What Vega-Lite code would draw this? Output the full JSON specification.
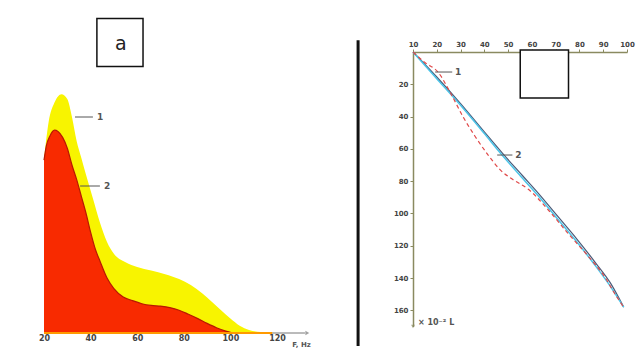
{
  "$schema": "https://vega.github.io/schema/vega-lite/v6.json",
  "width": 636,
  "height": 350,
  "autosize": {"type": "none"},
  "padding": 0,
  "background": "white",
  "config": {
    "view": {"stroke": null},
    "axis": {"labelFont": "DejaVu Sans", "labelFontSize": 8, "labelFontWeight": "bold", "labelColor": "#444", "title": null, "grid": false}
  },
  "datasets": {
    "yellow": [
      {"x": 20, "y": 72}, {"x": 22, "y": 88}, {"x": 24.5, "y": 96}, {"x": 27.5, "y": 99.5}, {"x": 30, "y": 97.5},
      {"x": 32, "y": 90}, {"x": 34, "y": 80}, {"x": 36, "y": 73}, {"x": 38, "y": 66}, {"x": 41, "y": 56},
      {"x": 44, "y": 46}, {"x": 47, "y": 38}, {"x": 50, "y": 33}, {"x": 55, "y": 29.5}, {"x": 60, "y": 27.5},
      {"x": 66, "y": 26}, {"x": 72, "y": 24.5}, {"x": 78, "y": 22.5}, {"x": 83, "y": 20}, {"x": 88, "y": 16.5},
      {"x": 92, "y": 13}, {"x": 96, "y": 9.5}, {"x": 100, "y": 6}, {"x": 104, "y": 3}, {"x": 108, "y": 1.2},
      {"x": 113, "y": 0.4}, {"x": 120, "y": 0}
    ],
    "red": [
      {"x": 20, "y": 72}, {"x": 21, "y": 78}, {"x": 22.5, "y": 82}, {"x": 24.5, "y": 84.5}, {"x": 26, "y": 84},
      {"x": 28, "y": 81.5}, {"x": 30, "y": 77}, {"x": 32, "y": 70}, {"x": 34, "y": 64}, {"x": 36, "y": 57},
      {"x": 38, "y": 50}, {"x": 40, "y": 42}, {"x": 42, "y": 35}, {"x": 44, "y": 30}, {"x": 47, "y": 23},
      {"x": 50, "y": 18.5}, {"x": 54, "y": 15}, {"x": 58, "y": 13.5}, {"x": 62, "y": 12.2}, {"x": 66, "y": 11.5},
      {"x": 70, "y": 11.2}, {"x": 74, "y": 10.6}, {"x": 78, "y": 9.5}, {"x": 82, "y": 7.8}, {"x": 86, "y": 6},
      {"x": 90, "y": 4}, {"x": 94, "y": 2.2}, {"x": 98, "y": 0.8}, {"x": 101, "y": 0}
    ],
    "curve1": [
      {"x": 10, "y": 0}, {"x": 15, "y": 6.5}, {"x": 20.5, "y": 12.4}, {"x": 26, "y": 26}, {"x": 31, "y": 40},
      {"x": 36, "y": 52}, {"x": 41.6, "y": 63.8}, {"x": 46.7, "y": 73}, {"x": 52, "y": 79}, {"x": 58.5, "y": 85},
      {"x": 67, "y": 98}, {"x": 75, "y": 112}, {"x": 84, "y": 127}, {"x": 90.5, "y": 139}, {"x": 95, "y": 150},
      {"x": 98.6, "y": 158}
    ],
    "curve2": [
      {"x": 10, "y": 0}, {"x": 20, "y": 16.5}, {"x": 30, "y": 33}, {"x": 40, "y": 50.5}, {"x": 47, "y": 63},
      {"x": 55, "y": 76.5}, {"x": 62, "y": 88}, {"x": 70, "y": 102}, {"x": 78, "y": 116}, {"x": 86, "y": 131},
      {"x": 92, "y": 143}, {"x": 98.6, "y": 158}
    ],
    "curve2b": [
      {"x": 10, "y": 0}, {"x": 20, "y": 15.5}, {"x": 30, "y": 32}, {"x": 40, "y": 49.5}, {"x": 47.5, "y": 62.5},
      {"x": 56, "y": 76.5}, {"x": 63, "y": 88}, {"x": 71, "y": 102}, {"x": 79, "y": 116}, {"x": 87, "y": 131},
      {"x": 93, "y": 143}, {"x": 98.6, "y": 158}
    ]
  },
  "layer": [
    {
      "encoding": {
        "x": {"field": "x", "type": "quantitative",
              "scale": {"domain": [20, 120], "range": [44, 277], "nice": false, "zero": false},
              "axis": {"orient": "bottom", "offset": -17, "values": [20, 40, 60, 80, 100, 120], "domain": false, "ticks": false, "labelPadding": 1, "labelFlush": false}},
        "y": {"field": "y", "type": "quantitative",
              "scale": {"domain": [0, 100], "range": [333, 93], "nice": false, "zero": false},
              "axis": null}
      },
      "layer": [
        {"data": {"name": "yellow"}, "mark": {"type": "area", "color": "#f8f400", "opacity": 1, "interpolate": "monotone"}},
        {"data": {"name": "red"}, "mark": {"type": "area", "color": "#f82a00", "opacity": 1, "interpolate": "monotone", "line": {"color": "#b81800", "strokeWidth": 1.2}}},
        {"data": {"values": [{"x": 20, "x2": 118, "y": 0}]}, "mark": {"type": "rule", "color": "#ff9a00", "strokeWidth": 2}, "encoding": {"x2": {"field": "x2"}}},
        {"data": {"values": [{"x": 118, "x2": 132, "y": 0}]}, "mark": {"type": "rule", "color": "#777", "strokeWidth": 1}, "encoding": {"x2": {"field": "x2"}}},
        {"data": {"values": [{"x": 133, "y": 0}]}, "mark": {"type": "point", "shape": "triangle-right", "filled": true, "color": "#777", "size": 20}},
        {"data": {"values": [{"x": 126.5, "y": -5, "t": "F, Hz"}]}, "mark": {"type": "text", "align": "left", "baseline": "middle", "font": "DejaVu Sans", "fontSize": 7, "fontWeight": "bold", "color": "#555"}, "encoding": {"text": {"field": "t"}}},
        {"data": {"values": [{"x": 33.3, "x2": 41, "y": 90}, {"x": 35.5, "x2": 44, "y": 61.25}]}, "mark": {"type": "rule", "color": "#555", "strokeWidth": 1}, "encoding": {"x2": {"field": "x2"}}},
        {"data": {"values": [{"x": 42.7, "y": 90, "t": "1"}, {"x": 45.75, "y": 61.25, "t": "2"}]}, "mark": {"type": "text", "align": "left", "baseline": "middle", "font": "DejaVu Sans", "fontSize": 9, "fontWeight": "bold", "color": "#555"}, "encoding": {"text": {"field": "t"}}},
        {"data": {"values": [{"x": 42.7, "x2": 62.5, "y": 111, "y2": 131}]}, "mark": {"type": "rect", "fill": null, "stroke": "#111", "strokeWidth": 1.5}, "encoding": {"x2": {"field": "x2"}, "y2": {"field": "y2"}}},
        {"data": {"values": [{"x": 53, "y": 120.5, "t": "a"}]}, "mark": {"type": "text", "align": "center", "baseline": "middle", "font": "DejaVu Sans", "fontSize": 19, "color": "#222"}, "encoding": {"text": {"field": "t"}}},
        {"data": {"values": [{"x": 154.8, "y": -5.4, "y2": 122}]}, "mark": {"type": "rule", "color": "#111", "strokeWidth": 3}, "encoding": {"y2": {"field": "y2"}}}
      ]
    },
    {
      "encoding": {
        "x": {"field": "x", "type": "quantitative",
              "scale": {"domain": [10, 100], "range": [413, 627], "nice": false, "zero": false},
              "axis": {"orient": "top", "offset": -52, "values": [10, 20, 30, 40, 50, 60, 70, 80, 90, 100], "domainColor": "#8a8a60", "domainWidth": 1.5, "tickColor": "#8a8a60", "tickSize": 3, "labelFontSize": 7, "labelPadding": 2, "labelFlush": false}},
        "y": {"field": "y", "type": "quantitative",
              "scale": {"domain": [0, 170], "range": [52, 326.5], "nice": false, "zero": false},
              "axis": {"orient": "left", "offset": -413, "values": [20, 40, 60, 80, 100, 120, 140, 160], "domainColor": "#8a8a60", "domainWidth": 1.5, "tickColor": "#8a8a60", "tickSize": 3, "labelFontSize": 7, "labelPadding": 2, "labelFlush": false}}
      },
      "layer": [
        {"data": {"values": [{"x": 10, "y": 170}]}, "mark": {"type": "point", "shape": "triangle-down", "filled": true, "color": "#8a8a60", "size": 15}},
        {"data": {"name": "curve2b"}, "mark": {"type": "line", "color": "#4a5a78", "strokeWidth": 1.2, "interpolate": "monotone"}},
        {"data": {"name": "curve2"}, "mark": {"type": "line", "color": "#4cc4e8", "strokeWidth": 1.5, "interpolate": "monotone"}},
        {"data": {"name": "curve1"}, "mark": {"type": "line", "color": "#e04848", "strokeWidth": 1.2, "strokeDash": [4, 3], "interpolate": "monotone"}},
        {"data": {"values": [{"x": 19.3, "x2": 26.5, "y": 12.4}, {"x": 45.4, "x2": 51.8, "y": 63.8}]}, "mark": {"type": "rule", "color": "#555", "strokeWidth": 1}, "encoding": {"x2": {"field": "x2"}}},
        {"data": {"values": [{"x": 27.7, "y": 12.4, "t": "1"}, {"x": 53, "y": 63.8, "t": "2"}]}, "mark": {"type": "text", "align": "left", "baseline": "middle", "font": "DejaVu Sans", "fontSize": 9, "fontWeight": "bold", "color": "#555"}, "encoding": {"text": {"field": "t"}}},
        {"data": {"values": [{"x": 12.1, "y": 168, "t": "× 10⁻² L"}]}, "mark": {"type": "text", "align": "left", "baseline": "middle", "font": "DejaVu Sans", "fontSize": 8, "fontWeight": "bold", "color": "#555"}, "encoding": {"text": {"field": "t"}}},
        {"data": {"values": [{"x": 55.1, "x2": 75.4, "y": -1.2, "y2": 28.5}]}, "mark": {"type": "rect", "fill": "white", "stroke": "#111", "strokeWidth": 1.5}, "encoding": {"x2": {"field": "x2"}, "y2": {"field": "y2"}}}
      ]
    }
  ],
  "resolve": {"scale": {"x": "independent", "y": "independent"}}
}
